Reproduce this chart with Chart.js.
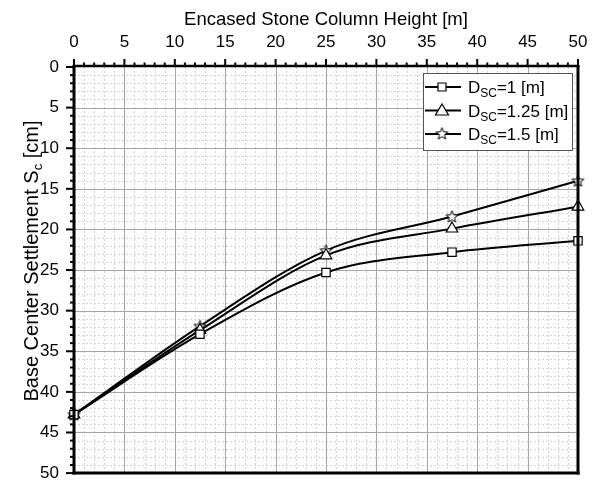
<!DOCTYPE html>
<html><head><meta charset="utf-8">
<script src="https://cdn.jsdelivr.net/npm/chart.js@4/dist/chart.umd.min.js"></script>
<style>html,body{margin:0;padding:0;background:#fff}canvas{display:block}</style>
</head><body>
<canvas id="c" width="598" height="481"></canvas>
<script>
const heights = [0, 12.5, 25, 37.5, 50];
const settleD100 = [42.8, 32.9, 25.3, 22.8, 21.4];
const settleD125 = [42.8, 32.4, 23.2, 19.9, 17.2];
const settleD150 = [42.8, 31.9, 22.6, 18.4, 14.0];
const seriesNames = ['1', '1.25', '1.5'];
const xTitle = 'Encased Stone Column Height [m]';
const yTitle = 'Base Center Settlement S';
const FONT = '"Liberation Sans", Arial, sans-serif';

function starCanvas() {
  const c = document.createElement('canvas');
  c.width = 15; c.height = 15;
  const g = c.getContext('2d');
  g.beginPath();
  for (let i = 0; i < 10; i++) {
    const r = i % 2 === 0 ? 6.3 : 2.7;
    const a = -Math.PI / 2 + i * Math.PI / 5;
    const px = 7.5 + r * Math.cos(a), py = 8 + r * Math.sin(a);
    if (i === 0) g.moveTo(px, py); else g.lineTo(px, py);
  }
  g.closePath();
  g.fillStyle = '#fff'; g.fill();
  g.lineWidth = 1; g.strokeStyle = '#000'; g.stroke();
  return c;
}
const star = starCanvas();

function mk(data, style, radius) {
  return {
    data: heights.map((h, i) => ({x: h, y: data[i]})),
    borderColor: '#000', borderWidth: 2,
    pointStyle: style, pointRadius: radius, pointHoverRadius: radius,
    pointBackgroundColor: '#fff', pointBorderColor: '#000', pointBorderWidth: 1.2,
    cubicInterpolationMode: 'monotone', fill: false, clip: false
  };
}

const framePlugin = {
  id: 'frame',
  beforeDatasetsDraw(chart) {
    const {ctx, chartArea: a, scales: {x, y}} = chart;
    ctx.save();
    ctx.strokeStyle = '#d2d2d2'; ctx.lineWidth = 1; ctx.setLineDash([2, 2]);
    for (let v = 1; v < 50; v++) {
      if (v % 5 === 0) continue;
      const px = Math.round(x.getPixelForValue(v)) + 0.5;
      ctx.beginPath(); ctx.moveTo(px, a.top); ctx.lineTo(px, a.bottom); ctx.stroke();
      const py = Math.round(y.getPixelForValue(v)) + 0.5;
      ctx.beginPath(); ctx.moveTo(a.left, py); ctx.lineTo(a.right, py); ctx.stroke();
    }
    ctx.setLineDash([]);
    ctx.strokeStyle = '#a6a6a6';
    for (let v = 5; v < 50; v += 5) {
      const px = Math.round(x.getPixelForValue(v)) + 0.5;
      ctx.beginPath(); ctx.moveTo(px, a.top); ctx.lineTo(px, a.bottom); ctx.stroke();
      const py = Math.round(y.getPixelForValue(v)) + 0.5;
      ctx.beginPath(); ctx.moveTo(a.left, py); ctx.lineTo(a.right, py); ctx.stroke();
    }
    ctx.restore();
  },
  afterDraw(chart) {
    const {ctx, chartArea: a, scales: {x, y}} = chart;
    ctx.save();
    ctx.strokeStyle = '#000';
    ctx.lineWidth = 3;
    ctx.beginPath(); ctx.moveTo(a.left, a.top - 1); ctx.lineTo(a.left, a.bottom + 1.5); ctx.stroke();
    ctx.beginPath(); ctx.moveTo(a.right, a.top - 1); ctx.lineTo(a.right, a.bottom + 1.5); ctx.stroke();
    ctx.beginPath(); ctx.moveTo(a.left - 1.5, a.bottom); ctx.lineTo(a.right + 1.5, a.bottom); ctx.stroke();
    ctx.lineWidth = 2.5;
    ctx.beginPath(); ctx.moveTo(a.left - 1.5, a.top - 1); ctx.lineTo(a.right + 1.5, a.top - 1); ctx.stroke();
    ctx.lineWidth = 2;
    for (let v = 0; v <= 50; v++) {
      const major = v % 5 === 0;
      const py = y.getPixelForValue(v);
      ctx.beginPath(); ctx.moveTo(a.left, py); ctx.lineTo(a.left - (major ? 8 : 4), py); ctx.stroke();
      const px = x.getPixelForValue(v);
      ctx.beginPath(); ctx.moveTo(px, a.top - 1); ctx.lineTo(px, a.top - (major ? 8 : 4.5)); ctx.stroke();
    }
    ctx.fillStyle = '#000';
    ctx.font = '18.5px ' + FONT;
    ctx.textAlign = 'center'; ctx.textBaseline = 'alphabetic';
    ctx.fillText(xTitle, (a.left + a.right) / 2, 25);
    ctx.save();
    ctx.translate(38, 261);
    ctx.rotate(-Math.PI / 2);
    ctx.font = '20px ' + FONT;
    const w1 = ctx.measureText(yTitle).width;
    ctx.font = '13px ' + FONT;
    const wc = ctx.measureText('c').width;
    ctx.font = '20px ' + FONT;
    const w2 = ctx.measureText(' [cm]').width;
    const tot = w1 + wc + w2;
    let sx = -tot / 2;
    ctx.textAlign = 'left';
    ctx.fillText(yTitle, sx, 0); sx += w1;
    ctx.font = '13px ' + FONT; ctx.fillText('c', sx, 4); sx += wc;
    ctx.font = '20px ' + FONT; ctx.fillText(' [cm]', sx, 0);
    ctx.restore();
    const lx = 423, ly = 73, lw = 149, lh = 77;
    ctx.fillStyle = '#fff'; ctx.fillRect(lx, ly, lw, lh);
    ctx.strokeStyle = '#555'; ctx.lineWidth = 1;
    ctx.strokeRect(lx + 0.5, ly + 0.5, lw, lh);
    const rows = [87, 110.5, 134];
    const styles = ['rect', 'triangle', 'star'];
    for (let i = 0; i < 3; i++) {
      const ry = rows[i];
      ctx.strokeStyle = '#000'; ctx.lineWidth = 2;
      ctx.beginPath(); ctx.moveTo(lx + 2, ry); ctx.lineTo(lx + 38, ry); ctx.stroke();
      ctx.fillStyle = '#fff'; ctx.strokeStyle = '#000'; ctx.lineWidth = 1.2;
      if (styles[i] === 'star') {
        ctx.drawImage(star, lx + 19 - 7.5, ry - 8);
      } else {
        ctx.beginPath();
        if (styles[i] === 'rect') {
          ctx.rect(lx + 19 - 4, ry - 4, 8, 8);
        } else {
          ctx.moveTo(lx + 19, ry - 6.5); ctx.lineTo(lx + 25.5, ry + 4.5); ctx.lineTo(lx + 12.5, ry + 4.5); ctx.closePath();
        }
        ctx.fill(); ctx.stroke();
      }
      ctx.fillStyle = '#000'; ctx.textAlign = 'left';
      let tx = lx + 45;
      ctx.font = '17px ' + FONT; ctx.fillText('D', tx, ry + 6); tx += ctx.measureText('D').width;
      ctx.font = '12px ' + FONT; ctx.fillText('SC', tx, ry + 10); tx += ctx.measureText('SC').width;
      ctx.font = '17px ' + FONT; ctx.fillText('=' + seriesNames[i] + ' [m]', tx, ry + 6);
    }
    ctx.restore();
  }
};

new Chart(document.getElementById('c'), {
  type: 'line',
  data: {
    datasets: [
      Object.assign(mk(settleD100, 'rect', 5.9), {label: 'DSC=1 [m]'}),
      Object.assign(mk(settleD125, 'triangle', 6.7), {label: 'DSC=1.25 [m]'}),
      Object.assign(mk(settleD150, star, 6), {label: 'DSC=1.5 [m]'})
    ]
  },
  options: {
    responsive: false, devicePixelRatio: 1, animation: false,
    layout: {padding: {left: 0, right: 20, top: 0, bottom: 7}},
    plugins: {legend: {display: false}, tooltip: {enabled: false}, title: {display: false}},
    scales: {
      x: {
        type: 'linear', position: 'top', min: 0, max: 50,
        grid: {display: false, drawTicks: false}, border: {display: false},
        ticks: {stepSize: 5, color: '#000', font: {family: FONT, size: 17}, padding: 14, maxRotation: 0},
        afterFit(s) { s.height = 67; s.paddingLeft = 0; s.paddingRight = 0; }
      },
      y: {
        type: 'linear', reverse: true, min: 0, max: 50,
        grid: {display: false, drawTicks: false}, border: {display: false},
        ticks: {stepSize: 5, color: '#000', font: {family: FONT, size: 17}, padding: 15},
        afterFit(s) { s.width = 74; s.paddingTop = 0; s.paddingBottom = 0; }
      }
    }
  },
  plugins: [framePlugin]
});
</script>
</body></html>
